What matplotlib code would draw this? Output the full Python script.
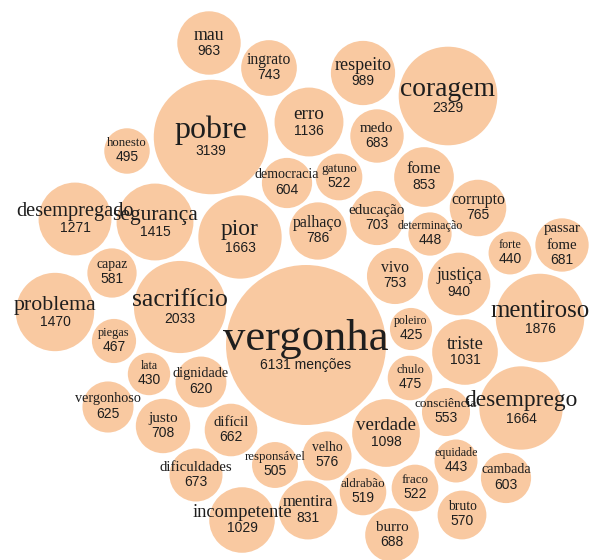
import matplotlib
matplotlib.use('Agg')
import matplotlib.pyplot as plt
from matplotlib.patches import Circle
import numpy as np

# words and number of mentions
words = ['vergonha', 'pobre', 'coragem', 'sacrifício', 'mentiroso', 'pior',
         'desemprego', 'problema', 'segurança', 'desempregado', 'erro',
         'verdade', 'triste', 'incompetente', 'respeito', 'mau', 'justiça',
         'fome', 'mentira', 'palhaço', 'corrupto', 'vivo', 'ingrato', 'justo',
         'educação', 'burro', 'medo', 'passar\nfome', 'dificuldades', 'difícil',
         'vergonhoso', 'dignidade', 'democracia', 'cambada', 'capaz', 'velho',
         'bruto', 'consciência', 'gatuno', 'fraco', 'aldrabão', 'responsável',
         'honesto', 'chulo', 'piegas', 'determinação', 'equidade', 'forte',
         'lata', 'poleiro']
mentions = [6131, 3139, 2329, 2033, 1876, 1663, 1664, 1470, 1415, 1271, 1136,
            1098, 1031, 1029, 989, 963, 940, 853, 831, 786, 765, 753, 743, 708,
            703, 688, 683, 681, 673, 662, 625, 620, 604, 603, 581, 576, 570,
            553, 522, 522, 519, 505, 495, 475, 467, 448, 443, 440, 430, 425]

# packed layout (bubble centres, pixel space)
layout_x = [306, 211, 448, 180, 540, 240, 521, 55, 155, 75, 309, 386, 465, 242,
            363, 209, 459, 424, 308, 318, 478, 395, 269, 163, 377, 392, 377,
            562, 196, 231, 108, 201, 287, 506, 112, 327, 462, 446, 339, 415,
            363, 275, 127, 410, 114, 430, 456, 510, 149, 411]
layout_y = [345, 137, 96, 307, 318, 237, 408, 312, 222, 219, 122, 433, 352, 520,
            73, 43, 284, 177, 510, 231, 208, 276, 68, 426, 218, 535, 136, 245,
            475, 430, 407, 382, 183, 478, 273, 456, 515, 412, 177, 488, 492,
            465, 151, 378, 341, 234, 461, 253, 374, 329]

FILL = '#f9c9a1'
INK = '#1e1e1e'
W, H = 591, 560

fig = plt.figure(figsize=(W / 100, H / 100), dpi=100)
ax = fig.add_axes([0, 0, 1, 1])
ax.set_xlim(0, W)
ax.set_ylim(H, 0)
ax.axis('off')

# circle area proportional to mentions
radii = 80 / np.sqrt(max(mentions)) * np.sqrt(mentions)

for x, y, r in zip(layout_x, layout_y, radii):
    ax.add_patch(Circle((x, y), r, facecolor=FILL, edgecolor='none', zorder=1))

for word, n, x, y, r in zip(words, mentions, layout_x, layout_y, radii):
    lab_px = 0.56 * r
    lines = word.split('\n')
    base = y + 0.31 * lab_px - 9 + (len(lines) - 1) * lab_px * 0.55
    for i, line in enumerate(reversed(lines)):
        ax.text(x, base - i * lab_px * 1.1, line, ha='center', va='baseline',
                fontsize=lab_px * 0.72, family='Liberation Serif', color=INK,
                zorder=3)
    num = '%d menções' % n if n == max(mentions) else str(n)
    ax.text(x, base + 9.5 + 0.12 * lab_px, num, ha='center', va='center',
            fontsize=10, family='Liberation Sans', color=INK, zorder=3)

plt.savefig('out.png', dpi=100, facecolor='white')
plt.close()
